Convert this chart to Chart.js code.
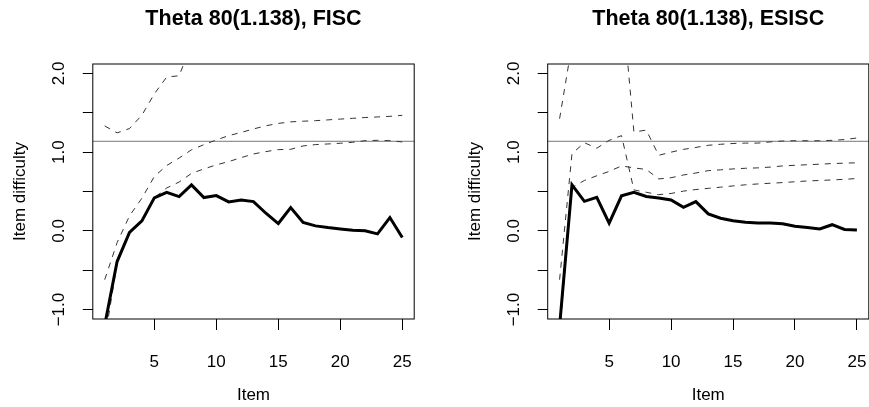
<!DOCTYPE html>
<html>
<head>
<meta charset="utf-8">
<script src="https://cdn.jsdelivr.net/npm/chart.js@4.4.1/dist/chart.umd.min.js"></script>
<style>
html, body { margin: 0; padding: 0; background: #fff; overflow: hidden; }
#wrap { position: relative; width: 869px; height: 407px; overflow: hidden; }
canvas { position: absolute; top: 0; }
</style>
</head>
<body>
<div id="wrap">
	<canvas id="fisc" width="440" height="407" style="left:0px"></canvas>
	<canvas id="esisc" width="430" height="407" style="left:440px"></canvas>
</div>
<script>
var items = [1, 2, 3, 4, 5, 6, 7, 8, 9, 10, 11, 12, 13, 14, 15, 16, 17, 18, 19, 20, 21, 22, 23, 24, 25];
var x_ticks = [5, 10, 15, 20, 25];
var y_ticks = [-1, -0.5, 0, 0.5, 1, 1.5, 2];
var x_range = [0.04, 25.96];
var y_range = [-1.12, 2.12];
var theta = 1.138;

// FISC panel
var fisc_est = [-1.2, -0.39, -0.02, 0.127, 0.42, 0.49, 0.435, 0.584, 0.423, 0.448, 0.368, 0.393, 0.372, 0.224, 0.093, 0.296, 0.106, 0.063, 0.042, 0.025, 0.008, 0.0, -0.038, 0.169, -0.085];
var fisc_dash1 = [1.333, 1.245, 1.30, 1.47, 1.74, 1.955, 1.97, 2.37, null, null, null, null, null, null, null, null, null, null, null, null, null, null, null, null, null];
var fisc_dash2 = [-0.62, -0.15, 0.19, 0.415, 0.69, 0.83, 0.925, 1.03, 1.095, 1.155, 1.21, 1.25, 1.295, 1.335, 1.365, 1.385, 1.393, 1.40, 1.41, 1.42, 1.43, 1.44, 1.447, 1.455, 1.468];
var fisc_dash3 = [-1.39, -0.41, -0.03, 0.13, 0.42, 0.545, 0.62, 0.73, 0.787, 0.838, 0.88, 0.93, 0.977, 1.007, 1.032, 1.036, 1.079, 1.096, 1.104, 1.113, 1.125, 1.146, 1.15, 1.146, 1.13];

// ESISC panel
var esisc_est = [-1.21, 0.584, 0.375, 0.425, 0.097, 0.445, 0.49, 0.436, 0.417, 0.392, 0.298, 0.372, 0.215, 0.16, 0.128, 0.108, 0.099, 0.1, 0.09, 0.058, 0.044, 0.025, 0.078, 0.018, 0.01];
var esisc_dash1 = [1.425, 2.37, null, null, null, 3.01, 1.256, 1.28, 0.96, 1.0, 1.035, 1.06, 1.087, 1.10, 1.11, 1.115, 1.115, 1.13, 1.142, 1.145, 1.145, 1.145, 1.15, 1.16, 1.18];
var esisc_dash2 = [-0.62, 0.98, 1.12, 1.05, 1.15, 1.21, 0.52, 0.49, 0.46, 0.475, 0.505, 0.525, 0.54, 0.555, 0.571, 0.585, 0.596, 0.605, 0.613, 0.624, 0.634, 0.64, 0.647, 0.655, 0.665];
var esisc_dash3 = [-1.3, 0.55, 0.64, 0.70, 0.755, 0.825, 0.80, 0.78, 0.66, 0.675, 0.71, 0.735, 0.765, 0.775, 0.787, 0.795, 0.80, 0.81, 0.825, 0.833, 0.84, 0.847, 0.855, 0.86, 0.865];

Chart.defaults.font.family = "'Liberation Sans', Arial, sans-serif";
Chart.defaults.color = "#000";

function pts(vals) {
	return vals.map(function(v, i) { return {x: items[i], y: v}; });
}

function dashed(vals) {
	return {data: pts(vals), borderColor: "#333", borderWidth: 1, borderDash: [6, 6], pointRadius: 0, tension: 0, clip: 0};
}

// R style box around the plot region
var boxPlugin = {
	id: "box",
	afterDraw: function(chart) {
		var a = chart.chartArea, ctx = chart.ctx;
		ctx.save();
		ctx.strokeStyle = "#000";
		ctx.lineWidth = 1;
		ctx.strokeRect(a.left, a.top, a.right - a.left, a.bottom - a.top);
		ctx.restore();
	}
};

function draw_panel(id, title, est, d1, d2, d3, plot_left, pad_right, ylab_pad) {
	new Chart(document.getElementById(id), {
		type: "line",
		data: {
			datasets: [
				{data: pts(est), borderColor: "#000", borderWidth: 3, pointRadius: 0, tension: 0, clip: 0},
				dashed(d1),
				dashed(d2),
				dashed(d3),
				{data: [{x: x_range[0], y: theta}, {x: x_range[1], y: theta}], borderColor: "#777", borderWidth: 1, pointRadius: 0, clip: 0}
			]
		},
		options: {
			responsive: false,
			animation: false,
			devicePixelRatio: 1,
			layout: {padding: {left: 0, right: pad_right, top: 0, bottom: 0}},
			plugins: {
				legend: {display: false},
				tooltip: {enabled: false},
				title: {
					display: true,
					text: title,
					fullSize: false,
					color: "#000",
					font: {size: 21.5, weight: "bold"},
					padding: {top: 6.3, bottom: 31.9}
				}
			},
			scales: {
				x: {
					type: "linear",
					min: x_range[0],
					max: x_range[1],
					afterBuildTicks: function(s) { s.ticks = x_ticks.map(function(v) { return {value: v}; }); },
					afterFit: function(s) { s.height = 88; s.paddingLeft = 0; s.paddingRight = 0; },
					grid: {drawOnChartArea: false, drawTicks: true, tickLength: 11, tickColor: "#000", tickWidth: 1},
					border: {display: false},
					ticks: {font: {size: 17}, color: "#000", padding: 22, autoSkip: false, maxRotation: 0},
					title: {display: true, text: "Item", font: {size: 17}, color: "#000", padding: {top: 0, bottom: 1}}
				},
				y: {
					type: "linear",
					min: y_range[0],
					max: y_range[1],
					afterBuildTicks: function(s) { s.ticks = y_ticks.map(function(v) { return {value: v}; }); },
					afterFit: function(s) { s.width = plot_left; s.paddingTop = 0; s.paddingBottom = 0; },
					grid: {drawOnChartArea: false, drawTicks: true, tickLength: 10, tickColor: "#000", tickWidth: 1},
					border: {display: false},
					ticks: {
						font: {size: 17},
						color: "#000",
						padding: 6.3,
						autoSkip: false,
						minRotation: 90,
						maxRotation: 90,
						crossAlign: "center",
						callback: function(v) {
							if (!Number.isInteger(v)) return "";
							return (v < 0 ? "\u2212" : "") + Math.abs(v).toFixed(1);
						}
					},
					title: {display: true, text: "Item difficulty", font: {size: 17}, color: "#000", padding: {top: ylab_pad, bottom: 0}}
				}
			}
		},
		plugins: [boxPlugin]
	});
}

draw_panel("fisc", "Theta 80(1.138), FISC", fisc_est, fisc_dash1, fisc_dash2, fisc_dash3, 92.8, 25.8, 10.5);
draw_panel("esisc", "Theta 80(1.138), ESISC", esisc_est, esisc_dash1, esisc_dash2, esisc_dash3, 107.7, 1.2, 25.4);
</script>
</body>
</html>
